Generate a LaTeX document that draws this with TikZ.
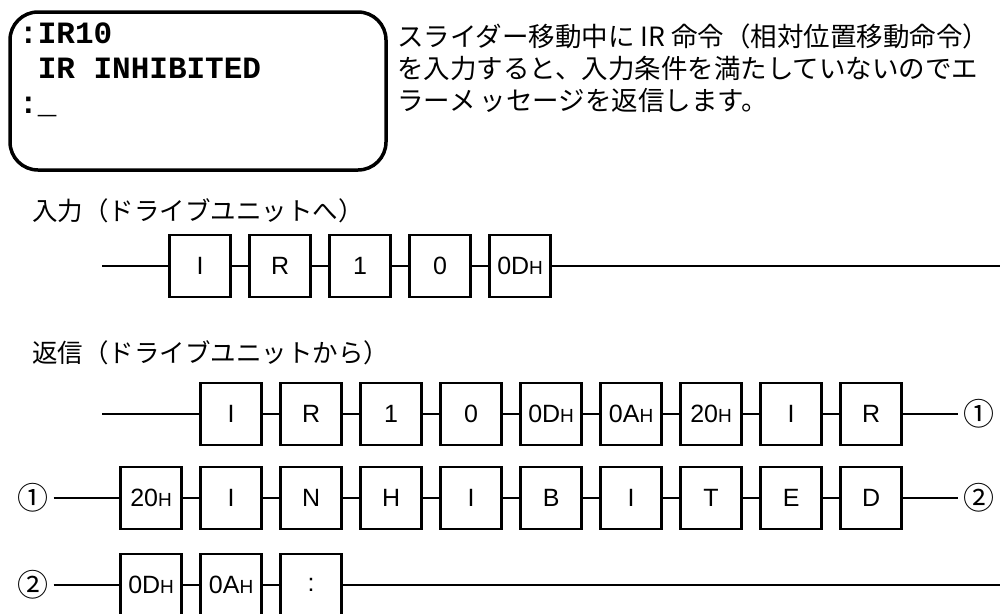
\documentclass[tikz,border=0pt]{standalone}
\usepackage{fontspec}
\newfontfamily\jpfont{Noto Sans CJK JP}
\newfontfamily\termfont{Liberation Mono}
\newfontfamily\cellfont{Liberation Sans}
\newcommand{\hx}[1]{#1{\fontsize{19}{19}\selectfont H}}
\begin{document}
\begin{tikzpicture}[x=1pt,y=-1pt,
  cell/.style={draw, line width=2.6pt, minimum width=61pt, minimum height=62pt, inner sep=0pt, anchor=west,
               font=\cellfont\fontsize{25}{25}\selectfont},
  wire/.style={line width=2.6pt},
  jp/.style={inner sep=0pt, anchor=base west, font=\jpfont\fontsize{26.5}{30}\selectfont},
  lab/.style={inner sep=0pt, anchor=base west, font=\jpfont\fontsize{25.5}{30}\selectfont},
  term/.style={inner sep=0pt, anchor=base west, font=\termfont\bfseries\fontsize{31}{35}\selectfont},
  circ/.style={inner xsep=5pt, inner ysep=0pt, font=\jpfont\fontsize{31}{31}\selectfont},
  screen/.style={draw, line width=3.5pt, rounded corners=28pt, minimum width=376pt, minimum height=158pt, inner sep=0pt}]
\clip (0,0) rectangle (1006,613);
\fill[white] (0,0) rectangle (1006,613);

% terminal screen
\node[screen] (scr) at (198,91) {};
\node[term] (t1) at (19,43) {:IR10};
\node[term] (t2) at (37.6,78) {IR INHIBITED};
\node[term] (t3) at (19,113) {:\_};

% explanation
\node[jp] (p1) at (397,46) {スライダー移動中に IR 命令（相対位置移動命令）};
\node[jp] (p2) at (397,78) {を入力すると、入力条件を満たしていないのでエ};
\node[jp] (p3) at (397,110) {ラーメ\hspace{4pt}ッセージを返信します。};

% labels
\node[lab] (l1) at (32,220) {入力（ドライブユニットへ）};
\node[lab] (l2) at (32,362) {返信（ドライブユニットから）};

% input row
\foreach \t [count=\i] in {I,R,1,0,{\hx{0D}}}
  \node[cell] (a\i) at ({168.3+80*(\i-1)},266) {\t};
\coordinate (a0) at (102,266);
\coordinate (aend) at (1000,266);
\draw[wire] (a0) -- (a1.west);
\foreach \i [evaluate=\i as \j using int(\i+1)] in {1,...,4}
  \draw[wire] (a\i.east) -- (a\j.west);
\draw[wire] (a5.east) -- (aend);

% return row 1
\foreach \t [count=\i] in {I,R,1,0,{\hx{0D}},{\hx{0A}},{\hx{20}},I,R}
  \node[cell] (b\i) at ({199.3+80*(\i-1)},414) {\t};
\coordinate (b0) at (102,414);
\node[circ] (c1r) at (979,414) {①};
\draw[wire] (b0) -- (b1.west);
\foreach \i [evaluate=\i as \j using int(\i+1)] in {1,...,8}
  \draw[wire] (b\i.east) -- (b\j.west);
\draw[wire] (b9.east) -- (c1r.west);

% return row 2
\foreach \t [count=\i] in {{\hx{20}},I,N,H,I,B,I,T,E,D}
  \node[cell] (d\i) at ({119.3+80*(\i-1)},498) {\t};
\node[circ] (c1l) at (33,498) {①};
\node[circ] (c2r) at (979,498) {②};
\draw[wire] (c1l.east) -- (d1.west);
\foreach \i [evaluate=\i as \j using int(\i+1)] in {1,...,9}
  \draw[wire] (d\i.east) -- (d\j.west);
\draw[wire] (d10.east) -- (c2r.west);

% return row 3
\foreach \t [count=\i] in {{\hx{0D}},{\hx{0A}},:}
  \node[cell] (e\i) at ({119.3+80*(\i-1)},585) {\t};
\node[circ] (c2l) at (33,585) {②};
\coordinate (eend) at (1000,585);
\draw[wire] (c2l.east) -- (e1.west);
\foreach \i [evaluate=\i as \j using int(\i+1)] in {1,2}
  \draw[wire] (e\i.east) -- (e\j.west);
\draw[wire] (e3.east) -- (eend);
\end{tikzpicture}
\end{document}
